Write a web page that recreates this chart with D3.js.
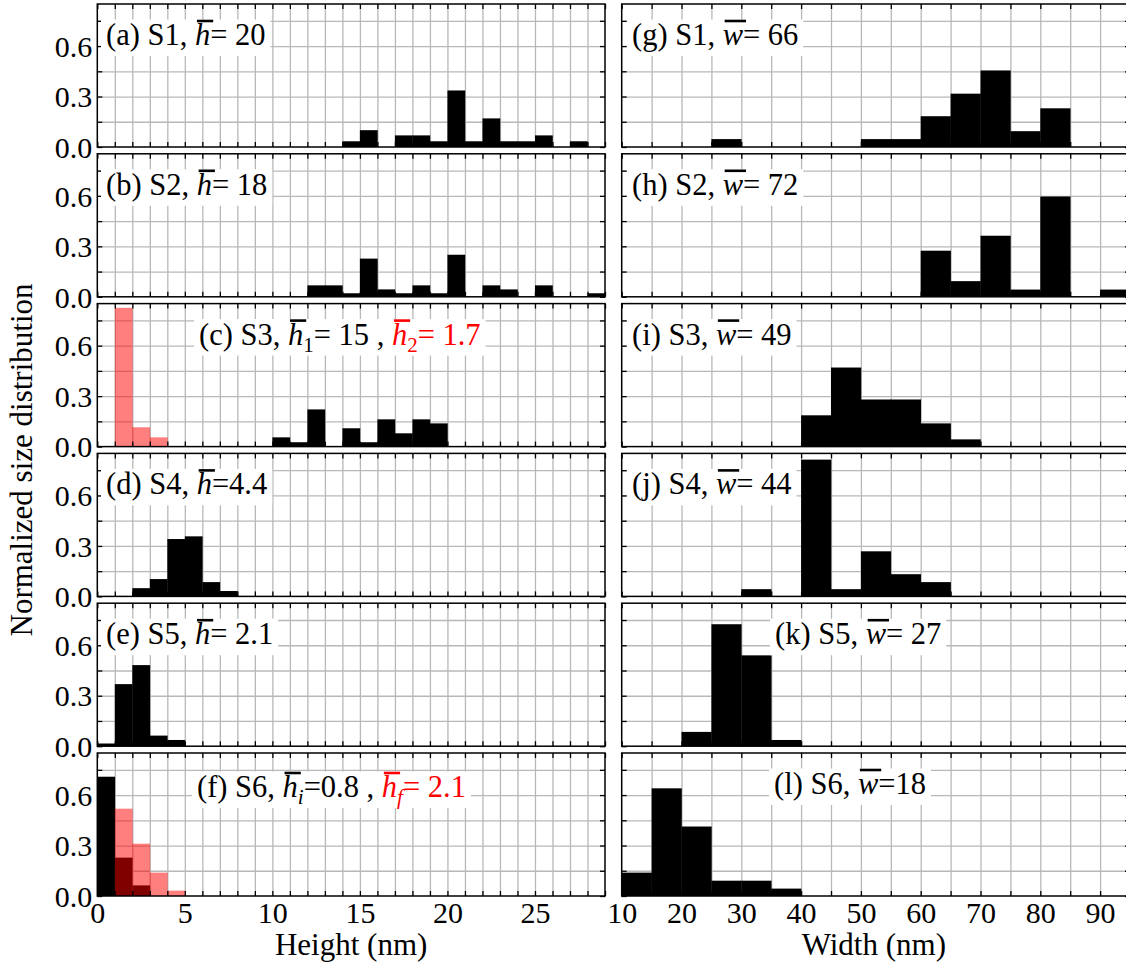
<!DOCTYPE html>
<html>
<head>
<meta charset="utf-8">
<script src="https://cdn.jsdelivr.net/npm/d3@7"></script>
<style>
  body { margin: 0; background: #fff; }
  svg { display: block; }
</style>
</head>
<body>
<svg id="chart" width="1126" height="969"></svg>
<script>
// ---- bins (bin start, nm) ----
const heightBins = [0,1,2,3,4,5,6,7,8,9,10,11,12,13,14,15,16,17,18,19,20,21,22,23,24,25,26,27,28];
const widthBins  = [10,15,20,25,30,35,40,45,50,55,60,65,70,75,80,85,90];

// ---- normalized height distributions (1 nm bins) ----
const s1Height = [0,0,0,0,0,0,0,0,0,0,0,0,0,0,0.034,0.1,0,0.069,0.069,0.034,0.336,0.034,0.17,0.034,0.034,0.069,0,0.034,0];
const s2Height = [0,0,0,0,0,0,0,0,0,0,0,0,0.068,0.068,0.021,0.227,0.044,0.021,0.068,0.021,0.25,0,0.068,0.044,0,0.068,0,0,0.021];
const s3Height = [0,0,0,0,0,0,0,0,0,0,0.055,0.026,0.221,0,0.109,0.026,0.162,0.079,0.162,0.138,0,0,0,0,0,0,0,0,0];
const s3HeightSmall = [0,0.825,0.115,0.055,0,0,0,0,0,0,0,0,0,0,0,0,0,0,0,0,0,0,0,0,0,0,0,0,0];
const s4Height = [0,0,0.049,0.103,0.341,0.357,0.085,0.032,0,0,0,0,0,0,0,0,0,0,0,0,0,0,0,0,0,0,0,0,0];
const s5Height = [0.016,0.369,0.482,0.063,0.037,0,0,0,0,0,0,0,0,0,0,0,0,0,0,0,0,0,0,0,0,0,0,0,0];
const s6HeightInitial = [0.709,0.228,0.063,0,0,0,0,0,0,0,0,0,0,0,0,0,0,0,0,0,0,0,0,0,0,0,0,0,0];
const s6HeightFinal   = [0,0.519,0.311,0.139,0.032,0,0,0,0,0,0,0,0,0,0,0,0,0,0,0,0,0,0,0,0,0,0,0,0];

// ---- normalized width distributions (5 nm bins) ----
const s1Width = [0,0,0,0.047,0,0,0,0,0.047,0.047,0.183,0.317,0.455,0.094,0.23,0,0];
const s2Width = [0,0,0,0,0,0,0,0,0,0,0.274,0.093,0.363,0.043,0.596,0,0.043];
const s3Width = [0,0,0,0,0,0,0.186,0.47,0.28,0.28,0.138,0.043,0,0,0,0,0];
const s4Width = [0,0,0,0,0.043,0,0.813,0.043,0.268,0.132,0.085,0,0,0,0,0,0];
const s5Width = [0,0,0.085,0.725,0.54,0.037,0,0,0,0,0,0,0,0,0,0,0];
const s6Width = [0.139,0.64,0.413,0.091,0.091,0.044,0,0,0,0,0,0,0,0,0,0,0];

// ---- axis ticks ----
const yTickValues = [0, 0.3, 0.6];
const yTickLabels = ["0.0", "0.3", "0.6"];
const yMinorValues = [0, 0.15, 0.3, 0.45, 0.6, 0.75];
const heightTickValues = [0, 5, 10, 15, 20, 25];
const widthTickValues = [10, 20, 30, 40, 50, 60, 70, 80, 90];
const heightGridValues = [1,2,3,4,5,6,7,8,9,10,11,12,13,14,15,16,17,18,19,20,21,22,23,24,25,26,27,28];
const widthGridValues = [15,20,25,30,35,40,45,50,55,60,65,70,75,80,85,90];

// ---- panel labels: [text, style, colour] ; "bar" = overlined italic, "sub" = subscript, "isub" = italic subscript
const labelA = [["(a) S1, "], ["h","bar"], ["= 20"]];
const labelB = [["(b) S2, "], ["h","bar"], ["= 18"]];
const labelC = [["(c) S3, "], ["h","bar"], ["1","sub"], ["= 15 , "], ["h","bar","red"], ["2","sub","red"], ["= 1.7","","red"]];
const labelD = [["(d) S4, "], ["h","bar"], ["=4.4"]];
const labelE = [["(e) S5, "], ["h","bar"], ["= 2.1"]];
const labelF = [["(f) S6, "], ["h","bar"], ["i","isub"], ["=0.8 , "], ["h","bar","red"], ["f","isub","red"], ["= 2.1","","red"]];
const labelG = [["(g) S1, "], ["w","bar"], ["= 66"]];
const labelH = [["(h) S2, "], ["w","bar"], ["= 72"]];
const labelI = [["(i) S3, "], ["w","bar"], ["= 49"]];
const labelJ = [["(j) S4, "], ["w","bar"], ["= 44"]];
const labelK = [["(k) S5, "], ["w","bar"], ["= 27"]];
const labelL = [["(l) S6, "], ["w","bar"], ["=18"]];

// ---- layout ----
const FONT = '"Liberation Serif", serif';
const RED = "#ff0000";
const rowBase = [147, 296.8, 446.6, 596.4, 746.2, 896];
const panelH = 143;
const yMax = 0.85;
const tickLen = 5;
const TICK_FS = 30, LABEL_FS = 30.5, TITLE_FS = 31;

const xHeight = d3.scaleLinear().domain([0, 29]).range([97.3, 605]);
const xWidth  = d3.scaleLinear().domain([10, 95]).range([621.7, 1130]);

const panels = [
  { col: 0, row: 0, black: s1Height, label: labelA, lx: 106, ly: 41 },
  { col: 0, row: 1, black: s2Height, label: labelB, lx: 106, ly: 41 },
  { col: 0, row: 2, black: s3Height, red: s3HeightSmall, label: labelC, lx: 199, ly: 41 },
  { col: 0, row: 3, black: s4Height, label: labelD, lx: 106, ly: 41 },
  { col: 0, row: 4, black: s5Height, label: labelE, lx: 106, ly: 41 },
  { col: 0, row: 5, black: s6HeightInitial, red: s6HeightFinal, label: labelF, lx: 197, ly: 44 },
  { col: 1, row: 0, black: s1Width, label: labelG, lx: 632, ly: 41 },
  { col: 1, row: 1, black: s2Width, label: labelH, lx: 632, ly: 41 },
  { col: 1, row: 2, black: s3Width, label: labelI, lx: 632, ly: 41 },
  { col: 1, row: 3, black: s4Width, label: labelJ, lx: 632, ly: 41 },
  { col: 1, row: 4, black: s5Width, label: labelK, lx: 775, ly: 41 },
  { col: 1, row: 5, black: s6Width, label: labelL, lx: 774, ly: 41 }
];

const svg = d3.select("#chart");

function styleAxis(sel, color, width) {
  sel.attr("font-family", null).attr("font-size", null);
  sel.select(".domain").remove();
  sel.selectAll(".tick line").attr("stroke", color).attr("stroke-width", width);
  sel.selectAll(".tick text").style("font-family", FONT).attr("fill", "#000");
}

panels.forEach((p, idx) => {
  const x = p.col === 0 ? xHeight : xWidth;
  const bins = p.col === 0 ? heightBins : widthBins;
  const binW = p.col === 0 ? 1 : 5;
  const gridVals = p.col === 0 ? heightGridValues : widthGridValues;
  const base = rowBase[p.row];
  const top = base - panelH;
  const y = d3.scaleLinear().domain([0, yMax]).range([base, top]);
  const [x0, x1] = x.range();
  const w = x1 - x0;

  const g = svg.append("g");
  const clipId = "clip" + idx;
  g.append("clipPath").attr("id", clipId)
    .append("rect").attr("x", x0).attr("y", top).attr("width", w).attr("height", panelH);

  // grid
  const gx = g.append("g").attr("transform", `translate(0,${base})`)
    .call(d3.axisBottom(x).tickValues(gridVals).tickSize(-panelH).tickFormat(""));
  styleAxis(gx, "#b8b8b8", 1.3);
  const gy = g.append("g").attr("transform", `translate(${x0},0)`)
    .call(d3.axisLeft(y).tickValues([0.15, 0.3, 0.45, 0.6, 0.75]).tickSize(-w).tickFormat(""));
  styleAxis(gy, "#b8b8b8", 1.3);

  // bars
  const plot = g.append("g").attr("clip-path", `url(#${clipId})`);
  const rows = bins.map((b, i) => ({ b, v: p.black[i] })).filter(d => d.v > 0);
  plot.selectAll("rect.black").data(rows).join("rect")
    .attr("class", "black")
    .attr("x", d => x(d.b)).attr("width", d => x(d.b + binW) - x(d.b) + 0.3)
    .attr("y", d => y(d.v)).attr("height", d => y(0) - y(d.v))
    .attr("fill", "#000");
  if (p.red) {
    const redRows = bins.map((b, i) => ({ b, v: p.red[i] })).filter(d => d.v > 0);
    plot.selectAll("rect.red").data(redRows).join("rect")
      .attr("class", "red")
      .attr("x", d => x(d.b)).attr("width", d => x(d.b + binW) - x(d.b) + 0.3)
      .attr("y", d => y(d.v)).attr("height", d => y(0) - y(d.v))
      .attr("fill", RED).attr("fill-opacity", 0.5);
  }

  // inward ticks on all four sides
  const tickVals = p.col === 0 ? heightBins.concat([29]) : widthBins.concat([95]);
  const tb = g.append("g").attr("transform", `translate(0,${base})`)
    .call(d3.axisBottom(x).tickValues(tickVals).tickSize(-tickLen).tickFormat(""));
  styleAxis(tb, "#000", 1.3);
  const tt = g.append("g").attr("transform", `translate(0,${top})`)
    .call(d3.axisTop(x).tickValues(tickVals).tickSize(-tickLen).tickFormat(""));
  styleAxis(tt, "#000", 1.3);
  const tl = g.append("g").attr("transform", `translate(${x0},0)`)
    .call(d3.axisLeft(y).tickValues(yMinorValues).tickSize(-tickLen).tickFormat(""));
  styleAxis(tl, "#000", 1.3);
  const tr = g.append("g").attr("transform", `translate(${x1},0)`)
    .call(d3.axisRight(y).tickValues(yMinorValues).tickSize(-tickLen).tickFormat(""));
  styleAxis(tr, "#000", 1.3);

  // y tick labels (left column)
  if (p.col === 0) {
    const yl = g.append("g").attr("transform", `translate(${x0},0)`)
      .call(d3.axisLeft(y).tickValues(yTickValues).tickSize(0).tickPadding(5)
        .tickFormat((d, i) => yTickLabels[i]));
    styleAxis(yl, "#000", 0);
    yl.selectAll(".tick text").attr("font-size", TICK_FS).attr("dy", "0.34em");
  }
  // x tick labels (bottom row)
  if (p.row === 5) {
    const xl = g.append("g").attr("transform", `translate(0,${base})`)
      .call(d3.axisBottom(x).tickValues(p.col === 0 ? heightTickValues : widthTickValues)
        .tickSize(0).tickPadding(5));
    styleAxis(xl, "#000", 0);
    xl.selectAll(".tick text").attr("font-size", TICK_FS).attr("dy", "0.72em");
  }

  // panel label with white box
  const lg = g.append("g");
  const boxRect = lg.append("rect").attr("fill", "#fff");
  const baseY = top + p.ly;
  const txt = lg.append("text").attr("x", p.lx).attr("y", baseY)
    .style("font-family", FONT).attr("font-size", LABEL_FS).attr("fill", "#000");
  let charIdx = 0;
  const bars = [];
  let shifted = 0;
  p.label.forEach(([t, st, col]) => {
    const ts = txt.append("tspan").text(t);
    if (col) ts.attr("fill", col === "red" ? RED : col);
    let dy = 0;
    if (st === "bar") { ts.attr("font-style", "italic"); bars.push({ i: charIdx, n: t.length, col }); }
    if (st === "sub" || st === "isub") {
      ts.attr("font-size", 21);
      if (st === "isub") ts.attr("font-style", "italic");
      dy = 7 - shifted; shifted = 7;
    } else if (shifted) { dy = -shifted; shifted = 0; }
    if (dy) ts.attr("dy", dy);
    charIdx += t.length;
  });
  const node = txt.node();
  bars.forEach(b => {
    const e0 = node.getExtentOfChar(b.i);
    const e1 = node.getExtentOfChar(b.i + b.n - 1);
    lg.append("line")
      .attr("x1", e0.x + 2).attr("x2", e1.x + e1.width + 3)
      .attr("y1", baseY - 24).attr("y2", baseY - 24)
      .attr("stroke", b.col === "red" ? RED : "#000").attr("stroke-width", 2.6);
  });
  const bb = node.getBBox();
  boxRect.attr("x", bb.x - 5).attr("width", bb.width + 10)
    .attr("y", baseY - 25.5).attr("height", 36.5);

  // frame
  g.append("rect").attr("x", x0).attr("y", top).attr("width", w).attr("height", panelH)
    .attr("fill", "none").attr("stroke", "#000").attr("stroke-width", 1.5);
});

// axis titles
svg.append("text").attr("x", (xHeight.range()[0] + xHeight.range()[1]) / 2).attr("y", 955)
  .style("font-family", FONT).attr("text-anchor", "middle").attr("font-size", TITLE_FS).text("Height (nm)");
svg.append("text").attr("x", (xWidth(10) + 1126) / 2).attr("y", 955)
  .style("font-family", FONT).attr("text-anchor", "middle").attr("font-size", TITLE_FS).text("Width (nm)");
svg.append("text").attr("transform", "translate(32,460) rotate(-90)")
  .style("font-family", FONT).attr("text-anchor", "middle").attr("font-size", TITLE_FS).text("Normalized size distribution");
</script>
</body>
</html>
